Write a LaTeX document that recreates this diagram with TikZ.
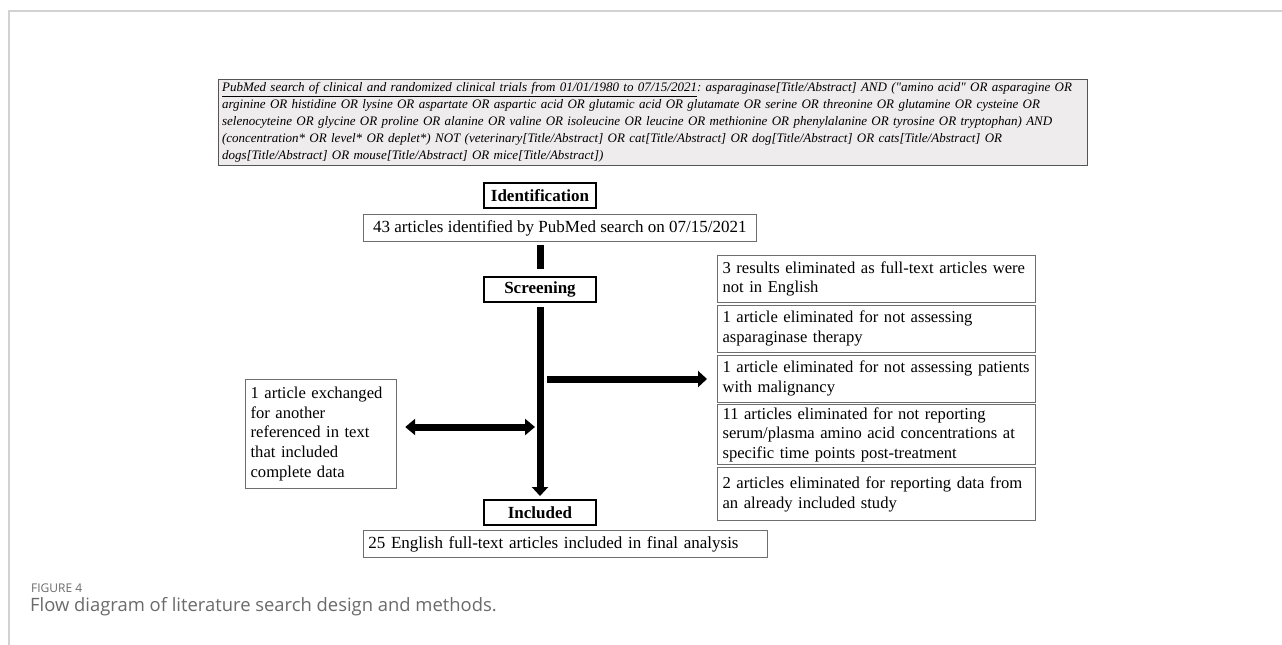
\documentclass[tikz,border=0pt]{standalone}
\usepackage{fontspec}
\setmainfont{Liberation Serif}
\newfontfamily\capfont{Open Sans}
\usetikzlibrary{positioning, arrows.meta, calc}

\definecolor{edgegray}{HTML}{6E6E6E}
\definecolor{queryfill}{HTML}{EEECEC}
\definecolor{querydraw}{HTML}{555555}
\definecolor{framegray}{HTML}{D2D2D2}
\definecolor{capgray}{HTML}{6A6A6A}

\begin{document}
\frenchspacing
\begin{tikzpicture}[
  x=1pt, y=-1pt,
  every node/.style={font=\fontsize{16.6}{19.8}\selectfont},
  query/.style={draw=querydraw, fill=queryfill, line width=1.2pt, text width=862pt,
                inner xsep=3.5pt, inner ysep=3pt, minimum height=85pt, align=left,
                font=\fontsize{13}{17}\selectfont\itshape},
  stage/.style={draw, line width=2pt, minimum width=112pt, minimum height=25pt,
                inner sep=0pt, font=\fontsize{17}{19}\selectfont\bfseries},
  count/.style={draw=edgegray, line width=0.8pt, minimum height=27pt, inner xsep=5pt,
                font=\fontsize{17}{20}\selectfont},
  excl/.style={draw=edgegray, line width=0.8pt, text width=308pt, inner xsep=5.2pt,
               inner ysep=2pt, align=left, minimum height=47pt},
  bar/.style={line width=7pt},
  arr/.style={line width=7pt, -{Triangle[length=9pt, width=16pt]}},
  darr/.style={line width=7pt, {Triangle[length=10pt, width=16pt]}-{Triangle[length=10pt, width=16pt]}}
]
\useasboundingbox (0,0) rectangle (1282,645);

% ---- page frame ----
\draw[framegray, line width=1.5pt] (9,645) -- (9,11) -- (1282,11);

% ---- search string ----
\node[query, anchor=north west] (search) at (218,79)
  {\underline{PubMed search of clinical and randomized clinical trials from 01/01/1980 to 07/15/2021}: asparaginase[Title/Abstract] AND (\textquotedbl amino acid\textquotedbl{} OR asparagine OR\\
   arginine OR histidine OR lysine OR aspartate OR aspartic acid OR glutamic acid OR glutamate OR serine OR threonine OR glutamine OR cysteine OR\\
   selenocyteine OR glycine OR proline OR alanine OR valine OR isoleucine OR leucine OR methionine OR phenylalanine OR tyrosine OR tryptophan) AND\\
   (concentration* OR level* OR deplet*) NOT (veterinary[Title/Abstract] OR cat[Title/Abstract] OR dog[Title/Abstract] OR cats[Title/Abstract] OR\\
   dogs[Title/Abstract] OR mouse[Title/Abstract] OR mice[Title/Abstract])};

% ---- main column ----
\node[stage] (ident) at (540,195.5) {Identification};
\node[count, anchor=west, minimum width=393pt] (found) at (363,228)
  {43 articles identified by PubMed search on 07/15/2021};
\node[stage] (screen) at (540,289.5) {Screening};
\node[stage] (incl) at (540,512.5) {Included};
\node[count, anchor=west, text width=394pt, align=left] (final) at (363,544)
  {25 English full-text articles included in final analysis};

% ---- exclusions (right) ----
\node[excl, anchor=north west] (ex1) at (717,255)
  {3 results eliminated as full-text articles were\\not in English};
\node[excl, below=2pt of ex1] (ex2)
  {1 article eliminated for not assessing\\asparaginase therapy};
\node[excl, below=2pt of ex2] (ex3)
  {1 article eliminated for not assessing patients\\with malignancy};
\node[excl, below=2pt of ex3, minimum height=60pt] (ex4)
  {11 articles eliminated for not reporting\\serum/plasma amino acid concentrations at\\specific time points post-treatment};
\node[excl, below=2pt of ex4, minimum height=53pt] (ex5)
  {2 articles eliminated for reporting data from\\an already included study};

% ---- exchanged article (left) ----
\node[excl, anchor=north west, text width=141pt, minimum height=109pt] (swapbox) at (245,379)
  {1 article exchanged\\for another\\referenced in text\\that included\\complete data};

% ---- connectors ----
\coordinate (split) at (544,379);
\coordinate (swap) at (535,427);
\draw[bar] ([yshift=-3pt]screen.north |- found.south) -- ([yshift=7pt]screen.north);
\draw[arr] ([yshift=-4pt]screen.south) -- ([yshift=3pt]incl.north);
\draw[arr] ([xshift=3pt]split) -- ([xshift=-10pt]split -| ex3.west);
\draw[darr] ([xshift=8pt]swap -| swapbox.east) -- (swap);

% ---- caption ----
\node[anchor=west, inner sep=0pt, text=capgray, font=\capfont\fontsize{12}{14}\selectfont] (figno) at (31,588) {FIGURE 4};
\node[anchor=west, inner sep=0pt, text=capgray, font=\capfont\fontsize{18.4}{21}\selectfont] (figcap) at (30,607)
  {Flow diagram of literature search design and methods.};
\end{tikzpicture}
\end{document}
